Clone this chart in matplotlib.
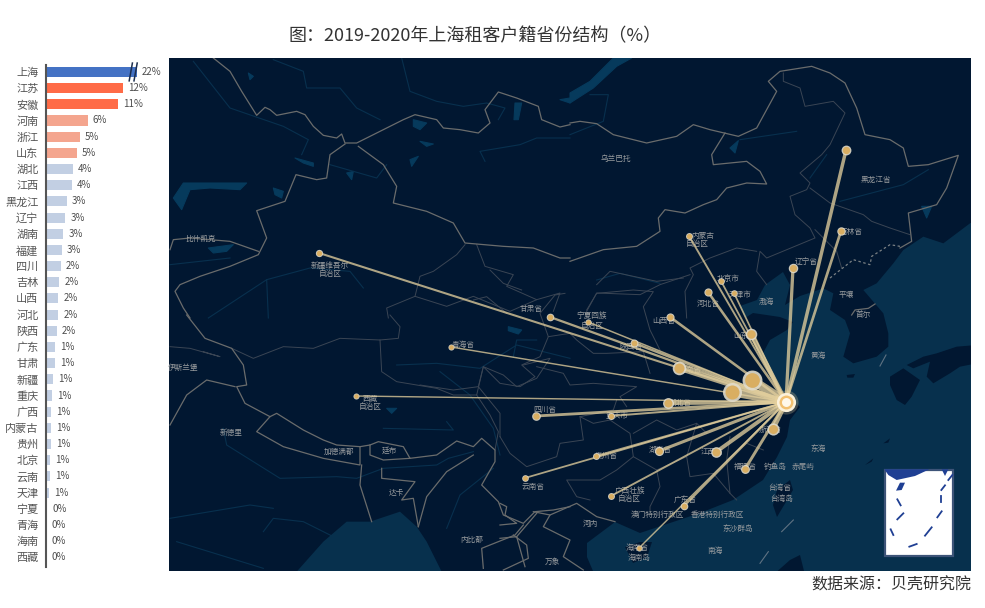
import matplotlib
matplotlib.use('Agg')
import matplotlib.pyplot as plt
from matplotlib.patches import Polygon, Rectangle

plt.rcParams['font.family'] = ['Noto Sans CJK SC', 'DejaVu Sans']

# bar chart data
provinces = ['上海', '江苏', '安徽', '河南', '浙江', '山东', '湖北', '江西', '黑龙江', '辽宁', '湖南', '福建', '四川', '吉林', '山西', '河北',
             '陕西', '广东', '甘肃', '新疆', '重庆', '广西', '内蒙古', '贵州', '北京', '云南', '天津', '宁夏', '青海', '海南', '西藏']
shares = [22, 12.0, 11.2, 6.5, 5.3, 4.8, 4.2, 4.0, 3.3, 3.0, 2.7, 2.5, 2.3, 2.1, 1.9, 1.9,
          1.7, 1.4, 1.4, 1.1, 0.9, 0.8, 0.8, 0.8, 0.6, 0.6, 0.5, 0.2, 0.1, 0.1, 0.05]
share_labels = ['22%', '12%', '11%', '6%', '5%', '5%', '4%', '4%', '3%', '3%', '3%', '3%', '2%', '2%', '2%', '2%',
                '2%', '1%', '1%', '1%', '1%', '1%', '1%', '1%', '1%', '1%', '1%', '0%', '0%', '0%', '0%']
broken_at = 14.2

# where each province sits on the map (same order as provinces)
map_x = [786, 752, 732, 679, 773, 751, 668, 716, 846, 793, 659, 745, 536, 841, 670, 708,
         634, 684, 550, 319, 611, 611, 689, 596, 721, 525, 734, 588, 451, 639, 356]
map_y = [402, 380, 392, 368, 429, 334, 403, 452, 150, 268, 451, 469, 416, 231, 317, 292,
         343, 506, 317, 253, 416, 496, 236, 456, 281, 478, 293, 322, 347, 548, 396]

map_labels = ['乌兰巴托', '比什凯克', '新疆维吾尔', '自治区', '甘肃省', '青海省', '西藏', '自治区', '四川省', '云南省', '新德里', '加德满都',
              '廷布', '达卡', '内比都', '伊斯兰堡', '河内', '万象', '平壤', '首尔', '黑龙江省', '吉林省', '辽宁省', '内蒙古', '自治区',
              '北京市', '河北省', '天津市', '山西省', '山东省', '宁夏回族', '自治区', '陕西省', '河南省', '湖北省', '重庆市', '贵州省',
              '湖南省', '江西省', '浙江省', '福建省', '广东省', '广西壮族', '自治区', '澳门特别行政区', '香港特别行政区', '台湾省', '台湾岛',
              '东沙群岛', '南海', '海南省', '海南岛', '黄海', '东海', '渤海', '钓鱼岛', '赤尾屿']
label_x = [616, 201, 330, 330, 531, 463, 370, 370, 545, 533, 231, 339, 389, 396, 472, 183, 590, 552, 846, 863, 876, 851, 806, 703, 697,
           728, 708, 740, 664, 745, 592, 592, 631, 690, 680, 617, 606, 660, 712, 770, 745, 685, 630, 629, 657, 717, 780, 782,
           738, 715, 637, 639, 818, 818, 766, 775, 803]
label_y = [159, 239, 266, 274, 309, 345, 399, 407, 410, 487, 433, 452, 451, 493, 540, 368, 524, 562, 295, 315, 180, 232, 263, 236, 244,
           279, 304, 295, 321, 336, 317, 326, 347, 370, 403, 416, 456, 450, 452, 430, 467, 500, 491, 499, 515, 515, 488, 499,
           529, 551, 548, 558, 356, 449, 302, 467, 467]


def trace(ox, oy, pts):
    return [(ox + p[0] / 3, oy + p[1] / 3) for p in pts]


# country borders
borders = [
    trace(170, 58, [(130, 0), (180, 40), (215, 100), (260, 172), (285, 148), (300, 155), (320, 172), (380, 160), (405, 170), (430, 205), (460, 232), (500, 240), (515, 228), (525, 255), (560, 255), (590, 240), (640, 215), (700, 185), (735, 170), (800, 185), (820, 210), (870, 215), (925, 225), (960, 195), (945, 155), (985, 102), (1040, 120), (1105, 145), (1115, 185), (1170, 207), (1200, 200)]),
    trace(570, 58, [(0, 195), (30, 190), (80, 197), (130, 230), (230, 255), (320, 235), (370, 200), (420, 215), (505, 235), (560, 210), (620, 100), (595, 70), (630, 40), (725, 25), (780, 45), (825, 75), (860, 150), (885, 230), (960, 245), (1000, 270), (1015, 325), (1075, 320), (1165, 292), (1155, 320), (1130, 390), (1100, 440), (1015, 465), (1025, 550), (990, 570)]),
    trace(170, 58, [(525, 258), (480, 290), (470, 360), (440, 365), (378, 350), (345, 430), (260, 458), (290, 540), (265, 590), (180, 625), (90, 655), (30, 680), (15, 700), (40, 750), (60, 780)]),
    trace(170, 58, [(0, 575), (10, 545), (60, 540), (180, 550), (265, 580)]),
    trace(170, 58, [(565, 265), (640, 320), (680, 385), (670, 435), (770, 460), (850, 495), (885, 555), (1000, 565), (1090, 570), (1170, 600), (1200, 600)]),
    trace(170, 315, [(50, 0), (105, 70), (185, 100), (220, 150), (230, 210), (200, 215), (225, 265), (300, 305), (320, 295), (400, 345), (460, 375), (500, 390), (570, 395), (600, 390), (625, 380), (700, 395), (720, 430), (800, 420), (860, 378), (910, 395), (935, 370), (975, 405), (975, 440), (935, 510), (985, 560), (1000, 600), (1060, 625), (1095, 590), (1150, 585), (1200, 575)]),
    trace(170, 315, [(300, 305), (260, 350), (340, 395), (460, 430), (570, 450), (570, 395)]),
    trace(170, 315, [(600, 390), (600, 420), (640, 435), (720, 430)]),
    trace(170, 315, [(575, 450), (570, 510), (605, 620)]),
    trace(170, 315, [(635, 460), (635, 490), (735, 500), (695, 555), (730, 550), (745, 635)]),
    trace(170, 315, [(910, 420), (830, 470), (770, 545), (745, 635)]),
    trace(170, 315, [(1060, 630), (1035, 660), (935, 700), (940, 760)]),
    trace(170, 315, [(1030, 660), (1070, 690), (1075, 730), (1000, 765)]),
    trace(170, 315, [(0, 330), (50, 240), (110, 195), (195, 215)]),
    trace(570, 58, [(0, 610), (100, 575), (200, 565), (270, 520), (265, 480), (285, 455), (345, 465), (400, 440), (440, 425), (470, 390), (530, 375), (590, 378), (570, 340), (530, 310), (430, 320), (425, 290), (465, 225)]),
    trace(500, 400, [(0, 310), (20, 320), (15, 345), (50, 370), (0, 375)]),
    trace(500, 400, [(100, 335), (150, 345), (230, 310), (290, 350), (345, 365)]),
    trace(500, 400, [(0, 415), (50, 410), (110, 340)]),
    trace(500, 400, [(50, 410), (75, 500)]),
    trace(500, 400, [(150, 345), (130, 380), (210, 420), (190, 470), (250, 510)]),
    trace(790, 200, [(185, 345), (195, 330), (235, 325), (255, 312)]),
]
# province borders and the other faint ones
inner_borders = [
    trace(170, 58, [(885, 560), (860, 590), (790, 640), (750, 655), (735, 715), (650, 750), (655, 780)]),
    trace(170, 58, [(920, 560), (945, 625), (1030, 650), (1010, 685), (1100, 725)]),
    trace(170, 58, [(735, 715), (830, 745), (910, 715), (1020, 760), (1100, 725), (1170, 705), (1150, 760)]),
    trace(170, 315, [(0, 95), (60, 100), (150, 125), (100, 110)]),
    trace(170, 315, [(185, 100), (250, 130), (340, 95), (430, 100), (510, 70), (630, 75), (685, 70), (690, 35), (660, 0)]),
    trace(170, 315, [(630, 75), (635, 170), (680, 200), (800, 220), (850, 240), (920, 240), (940, 155), (1000, 180), (1040, 215), (1100, 190), (1140, 130), (1060, 150)]),
    trace(170, 315, [(920, 240), (960, 300), (985, 350), (975, 405)]),
    trace(570, 58, [(640, 45), (640, 70), (690, 90), (705, 145), (790, 130), (825, 165), (780, 260), (755, 290), (690, 345), (720, 375), (710, 395), (660, 415), (675, 470), (720, 510), (735, 540), (590, 600), (570, 580), (560, 640), (590, 680)]),
    trace(570, 58, [(720, 390), (780, 435), (880, 470), (905, 490), (960, 510), (1020, 530)]),
    trace(570, 58, [(735, 515), (800, 580), (815, 630)]),
    trace(570, 58, [(560, 580), (500, 570), (420, 600), (360, 630), (370, 650), (345, 700), (350, 780)]),
    trace(570, 58, [(80, 680), (120, 640), (260, 670), (340, 660)]),
    trace(570, 58, [(50, 760), (80, 705), (210, 710), (270, 680), (360, 650)]),
    trace(420, 270, [(160, 90), (200, 80), (260, 130)]),
    trace(420, 270, [(305, 60), (250, 40), (210, 0)]),
    trace(420, 270, [(435, 70), (405, 75), (360, 130), (385, 200), (360, 260), (305, 285), (345, 320), (300, 350), (240, 340), (190, 290), (175, 350), (100, 360), (0, 345)]),
    trace(420, 270, [(385, 200), (450, 190), (470, 210), (520, 250), (560, 250), (670, 245), (690, 310)]),
    trace(420, 270, [(500, 120), (530, 70), (640, 60), (700, 65), (670, 110), (690, 180), (720, 240)]),
    trace(420, 270, [(350, 290), (430, 310), (450, 345), (520, 340), (650, 350), (600, 380), (620, 410)]),
    trace(420, 270, [(175, 350), (240, 430), (240, 500)]),
    trace(500, 400, [(0, 110), (30, 160), (80, 200), (170, 170), (180, 130), (250, 120), (240, 50), (340, 30), (350, 0)]),
    trace(500, 400, [(240, 50), (280, 70), (330, 60), (390, 100), (400, 170), (350, 210), (300, 240), (200, 240), (230, 290), (270, 300)]),
    trace(500, 400, [(400, 100), (470, 60), (530, 90), (590, 70), (620, 100)]),
    trace(500, 400, [(400, 170), (470, 210), (480, 260), (450, 320), (450, 340)]),
    trace(500, 400, [(470, 210), (560, 170), (570, 230), (640, 220), (690, 280), (710, 300)]),
    trace(500, 400, [(590, 70), (560, 170)]),
    trace(500, 400, [(690, 110), (680, 180), (690, 280)]),
    trace(500, 400, [(680, 180), (740, 130), (790, 150)]),
]
dashed_border = trace(570, 58, [(780, 660), (850, 605), (900, 620), (905, 595), (960, 560), (990, 565)])

rivers = [
    trace(170, 58, [(70, 10), (180, 150), (340, 205), (415, 245), (395, 290)]),
    trace(170, 58, [(310, 5), (400, 40), (410, 90), (510, 90), (560, 150), (630, 185)]),
    trace(170, 58, [(695, 0), (720, 100), (800, 130), (880, 145), (950, 135), (1005, 150), (985, 185)]),
    trace(170, 58, [(945, 310), (930, 280), (1050, 260), (1100, 240), (1200, 240)]),
    trace(170, 58, [(480, 320), (620, 360), (650, 320)]),
    trace(170, 58, [(0, 620), (180, 600)]),
    trace(170, 58, [(115, 780), (290, 665), (420, 630), (540, 640), (580, 690)]),
    trace(170, 58, [(290, 665), (295, 780)]),
    trace(570, 58, [(0, 230), (100, 190), (115, 110), (60, 110)]),
    trace(570, 58, [(510, 245), (680, 220)]),
    trace(570, 58, [(810, 430), (1000, 380), (1075, 335)]),
    trace(570, 58, [(720, 360), (770, 290)]),
    trace(170, 315, [(0, 610), (240, 570), (310, 580)]),
    trace(170, 315, [(160, 340), (170, 390), (330, 490), (500, 485), (560, 490), (640, 460), (800, 450), (835, 430), (910, 410)]),
    trace(170, 315, [(280, 650), (310, 610), (400, 620), (500, 670)]),
    trace(170, 315, [(20, 680), (280, 760)]),
    trace(170, 315, [(640, 340), (850, 345), (830, 320)]),
    trace(170, 315, [(810, 170), (900, 240), (970, 340), (990, 420)]),
    trace(170, 315, [(830, 640), (870, 540), (970, 460)]),
    trace(170, 315, [(680, 150), (800, 145), (930, 160), (1040, 90), (1200, 130)]),
    trace(420, 270, [(280, 260), (290, 210), (350, 210)]),
    trace(420, 270, [(530, 30), (600, 10), (720, 40)]),
]

lakes = [
    trace(170, 58, [(10, 420), (40, 375), (120, 375), (230, 375), (210, 395), (120, 390), (60, 395), (35, 455)]),
    trace(170, 58, [(375, 300), (430, 315), (430, 325), (400, 315)]),
    trace(170, 58, [(310, 390), (340, 400), (335, 420), (315, 410)]),
    trace(170, 58, [(115, 570), (190, 560), (170, 580), (130, 585)]),
    trace(170, 58, [(730, 185), (770, 195), (750, 215), (730, 205)]),
    trace(170, 58, [(750, 250), (790, 258), (770, 265)]),
    trace(170, 58, [(720, 305), (745, 295), (725, 325)]),
    trace(170, 58, [(1035, 135), (1055, 135), (1045, 185), (1032, 185)]),
    trace(170, 58, [(235, 45), (250, 55), (240, 65)]),
    trace(170, 58, [(530, 345), (550, 340), (545, 365)]),
    trace(170, 58, [(1170, 125), (1200, 120), (1200, 135)]),
    trace(570, 58, [(0, 135), (70, 90), (140, 25), (185, 0), (130, 0), (60, 70), (0, 105)]),
    trace(570, 58, [(480, 270), (505, 248), (495, 285)]),
    trace(570, 58, [(1055, 445), (1085, 445), (1070, 480)]),
    trace(420, 270, [(265, 170), (305, 180), (295, 192), (265, 182)]),
    trace(170, 315, [(650, 280), (680, 280), (665, 295)]),
]

# the sea, walked along the coast from the north east round to the gulf of Tonkin
sea_coast = trace(790, 200, [(560, 60), (540, 70), (460, 130), (400, 110), (340, 150), (310, 190), (260, 250), (220, 270), (280, 340), (295, 400), (295, 440), (260, 470), (190, 490), (160, 470), (180, 400), (165, 360), (120, 330), (130, 280), (100, 265)]) + \
    [(800, 296), (785, 305), (790, 285), (783, 272), (765, 285), (757, 300), (740, 306), (745, 318), (753, 313), (780, 317), (793, 322), (787, 330), (770, 340), (762, 355), (770, 377), (783, 392), (800, 407), (790, 420), (787, 437), (777, 457), (763, 480), (733, 500), (700, 513), (640, 533), (615, 522), (587, 543), (587, 557), (593, 571), (975, 571), (975, 220)]
bengal = trace(170, 315, [(380, 770), (460, 680), (530, 620), (600, 620), (690, 590), (740, 635), (770, 680), (815, 770)])
land_in_sea = [
    [(777, 490), (790, 480), (793, 490), (777, 517), (773, 505)],
    [(625, 547), (640, 542), (652, 542), (647, 557), (633, 563)],
    [(773, 575), (790, 560), (800, 555), (805, 575)],
    trace(790, 200, [(560, 435), (500, 440), (440, 460), (400, 470), (350, 495), (370, 505), (420, 485), (410, 530), (430, 550), (480, 520), (510, 500), (560, 490)]),
    trace(790, 200, [(300, 530), (340, 505), (390, 540), (365, 590), (345, 615), (320, 600), (300, 555)]),
    trace(790, 200, [(170, 525), (195, 522), (190, 533), (172, 533)]),
    trace(790, 200, [(225, 795), (250, 775), (245, 785)]),
    trace(790, 200, [(280, 730), (300, 715), (295, 728)]),
]
sea_dashes = [trace(500, 400, [(845, 395), (880, 360)]), trace(500, 400, [(780, 490), (805, 455)]),
              trace(790, 200, [(270, 498), (288, 465)])]

# inset with the south china sea
inset_land = [trace(840, 440, [(133, 88), (268, 88), (225, 108), (170, 120), (145, 105)]),
              trace(840, 440, [(305, 88), (325, 88), (315, 108)]),
              trace(840, 440, [(180, 128), (195, 128), (185, 150), (168, 152)])]
inset_dashes = [trace(840, 440, [(172, 178), (182, 196)]), trace(840, 440, [(172, 238), (190, 220)]),
                trace(840, 440, [(152, 268), (160, 285)]), trace(840, 440, [(255, 287), (275, 262)]),
                trace(840, 440, [(208, 320), (230, 312)]), trace(840, 440, [(292, 232), (305, 214)]),
                trace(840, 440, [(302, 168), (302, 186)]), trace(840, 440, [(304, 150), (315, 136)]),
                trace(840, 440, [(325, 120), (337, 105)])]

W, H = 985, 608
fig = plt.figure(figsize=(W / 100, H / 100), dpi=100, facecolor='white')


def axes_px(x0, y0, x1, y1):
    return fig.add_axes([x0 / W, 1 - y1 / H, (x1 - x0) / W, (y1 - y0) / H])


# left bars
ax = axes_px(46, 65, 165, 567)
colors = ['#4472c4'] + ['#ff6b47'] * 2 + ['#f4a58e'] * 3 + ['#c2cfe3'] * 25
rows = list(range(len(provinces)))
shown = [min(v, broken_at) for v in shares]
ax.barh(rows, shown, height=0.62, color=colors)
for r, v, lab in zip(rows, shown, share_labels):
    ax.annotate(lab, (v, r), xytext=(5, 0), textcoords='offset pixels', va='center', ha='left', fontsize=7, color='#4d4d4d')
for dx in (-0.95, -0.2):
    ax.plot([broken_at + dx - 0.25, broken_at + dx + 0.25], [0.55, -0.55], color='#1c2f4f', lw=1.1, clip_on=False)
ax.set_xlim(0, 119 / 6.4)
ax.set_ylim(30.6, -0.43)
ax.set_yticks(rows)
ax.set_yticklabels(provinces, fontsize=8, color='#555555')
ax.tick_params(axis='y', length=0, pad=5.5)
ax.set_xticks([])
for s in ['top', 'right', 'bottom']:
    ax.spines[s].set_visible(False)
ax.spines['left'].set_color('#555555')
ax.spines['left'].set_linewidth(1.5)

# map, its axes run in the pixel grid of the picture
m = axes_px(169, 58, 971, 571)
m.set_xlim(169, 971)
m.set_ylim(571, 58)
m.set_facecolor('#011731')
m.add_patch(Polygon(sea_coast, closed=True, fc='#07304d', ec='none', zorder=1))
m.add_patch(Polygon(bengal, closed=True, fc='#07304d', ec='none', zorder=1))
for part in land_in_sea:
    m.add_patch(Polygon(part, closed=True, fc='#011731', ec='none', zorder=1.1))
for lake in lakes:
    m.add_patch(Polygon(lake, closed=True, fc='#063a5c', ec='#063a5c', lw=0.8, joinstyle='round', zorder=1.2))
for river in rivers:
    m.plot(*zip(*river), color='#08304e', lw=0.8, zorder=1.3)
for line in inner_borders:
    m.plot(*zip(*line), color='#3a4554', lw=0.7, zorder=2)
for line in borders:
    m.plot(*zip(*line), color='#6a6c6c', lw=0.9, zorder=2.1)
m.plot(*zip(*dashed_border), color='#7a8084', lw=0.9, ls=(0, (2, 2)), zorder=2)
for dash in sea_dashes:
    m.plot(*zip(*dash), color='#5f7282', lw=0.8, zorder=2)

for t, x, y in zip(map_labels, label_x, label_y):
    m.text(x, y, t, ha='center', va='center', fontsize=5.5, color='#9a9d9f', zorder=3)

# flow lines into Shanghai, heavier for the bigger shares
hub_x, hub_y = map_x[0], map_y[0]
for x, y, v in sorted(zip(map_x[1:], map_y[1:], shares[1:]), key=lambda a: a[2]):
    m.plot([x, hub_x], [y, hub_y], color='#e0cd9c', lw=1 + 0.45 * v, alpha=0.78, solid_capstyle='butt', zorder=4)
for x, y, v in zip(map_x[1:], map_y[1:], shares[1:]):
    d = 2 * (3 + 0.58 * v) * 0.72
    m.scatter(x, y, s=d ** 2, color='#e2dccb', alpha=0.9, linewidths=0, zorder=5)
    m.scatter(x, y, s=(d * 0.74) ** 2, color='#d9ae62', linewidths=0, zorder=6)
m.scatter(hub_x, hub_y, s=300, color='#f3d9a0', alpha=0.25, linewidths=0, zorder=6)
m.scatter(hub_x, hub_y, s=190, color='#fbf1da', linewidths=0, zorder=7)
m.scatter(hub_x, hub_y, s=100, color='#f2c070', linewidths=0, zorder=7.1)
m.scatter(hub_x, hub_y, s=42, color='#fff8ea', linewidths=0, zorder=7.2)

m.add_patch(Rectangle((884.5, 470), 68.5, 86, fc='white', ec='#3d5478', lw=1.6, zorder=8))
for part in inset_land:
    m.add_patch(Polygon(part, closed=True, fc='#1f3f93', ec='none', zorder=9))
for dash in inset_dashes:
    m.plot(*zip(*dash), color='#1f3f93', lw=1.3, zorder=9)
m.set_xticks([])
m.set_yticks([])
for s in m.spines.values():
    s.set_visible(False)

fig.text(475.5 / W, 1 - 36 / H, '图：2019-2020年上海租客户籍省份结构（%）', ha='center', va='center', fontsize=13, color='#333333')
fig.text(971 / W, 1 - 585 / H, '数据来源：贝壳研究院', ha='right', va='center', fontsize=11.5, color='#333333')

fig.savefig('out.png', dpi=100)
